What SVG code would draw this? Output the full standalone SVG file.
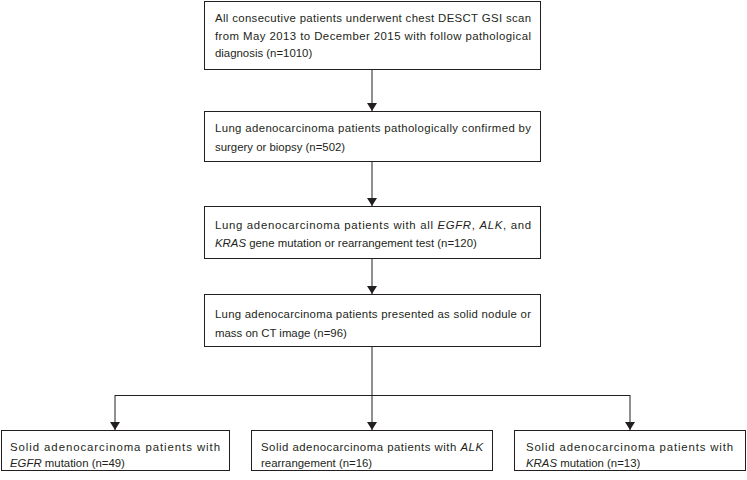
<svg xmlns="http://www.w3.org/2000/svg" width="747" height="480" viewBox="0 0 747 480">
<style>
.box{fill:#fff;stroke:#231f20;stroke-width:1}
.t{font-family:"Liberation Sans",Arial,sans-serif;font-size:11.4px;fill:#231f20}
.i{font-style:italic}
.c{fill:none;stroke:#231f20;stroke-width:1}
</style>
<defs>
<marker id="ah" viewBox="0 0 8 10" refX="8" refY="5" markerWidth="8" markerHeight="10" markerUnits="userSpaceOnUse" orient="auto">
<path d="M0,0 L8,5 L0,10 Z" fill="#231f20"/>
</marker>
</defs>
<g id="connectors">
<line class="c" x1="372" y1="69" x2="372" y2="111" marker-end="url(#ah)"/>
<line class="c" x1="372" y1="161" x2="372" y2="206" marker-end="url(#ah)"/>
<line class="c" x1="372" y1="259" x2="372" y2="294" marker-end="url(#ah)"/>
<line class="c" x1="372" y1="346" x2="372" y2="430" marker-end="url(#ah)"/>
<line class="c" x1="115" y1="395.5" x2="630" y2="395.5"/>
<line class="c" x1="115" y1="395" x2="115" y2="430" marker-end="url(#ah)"/>
<line class="c" x1="630" y1="395" x2="630" y2="430" marker-end="url(#ah)"/>
</g>
<g id="n1">
<rect class="box" x="204.5" y="1.5" width="336" height="68"/>
<text class="t" x="215" y="22" textLength="316" lengthAdjust="spacing">All consecutive patients underwent chest DESCT GSI scan</text>
<text class="t" x="215" y="39.5" textLength="316" lengthAdjust="spacing">from May 2013 to December 2015 with follow pathological</text>
<text class="t" x="215" y="57">diagnosis  (n=1010)</text>
</g>
<g id="n2">
<rect class="box" x="204.5" y="111.5" width="336" height="50"/>
<text class="t" x="215" y="132" textLength="316" lengthAdjust="spacing">Lung adenocarcinoma patients pathologically confirmed by</text>
<text class="t" x="215" y="151">surgery or biopsy (n=502)</text>
</g>
<g id="n3">
<rect class="box" x="204.5" y="206.5" width="336" height="52"/>
<text class="t" x="215" y="228.5" textLength="316" lengthAdjust="spacing">Lung adenocarcinoma patients with all <tspan class="i">EGFR</tspan>, <tspan class="i">ALK</tspan>, and</text>
<text class="t" x="215" y="246.5"><tspan class="i">KRAS</tspan> gene mutation or rearrangement test (n=120)</text>
</g>
<g id="n4">
<rect class="box" x="204.5" y="294.5" width="336" height="52"/>
<text class="t" x="215" y="317.5" textLength="316" lengthAdjust="spacing">Lung adenocarcinoma patients presented as  solid nodule or</text>
<text class="t" x="215" y="337">mass on CT image (n=96)</text>
</g>
<g id="n5">
<rect class="box" x="1.5" y="430.5" width="228" height="40"/>
<text class="t" x="10" y="450.5" textLength="210" lengthAdjust="spacing">Solid adenocarcinoma  patients with</text>
<text class="t" x="10" y="467"><tspan class="i">EGFR</tspan> mutation (n=49)</text>
</g>
<g id="n6">
<rect class="box" x="251.5" y="430.5" width="241" height="40"/>
<text class="t" x="261" y="450.5" textLength="222" lengthAdjust="spacing">Solid adenocarcinoma patients with <tspan class="i">ALK</tspan></text>
<text class="t" x="261" y="467">rearrangement (n=16)</text>
</g>
<g id="n7">
<rect class="box" x="514.5" y="430.5" width="231" height="40"/>
<text class="t" x="526" y="450.5" textLength="207" lengthAdjust="spacing">Solid adenocarcinoma patients with</text>
<text class="t" x="526" y="467"><tspan class="i">KRAS</tspan> mutation (n=13)</text>
</g>
</svg>
